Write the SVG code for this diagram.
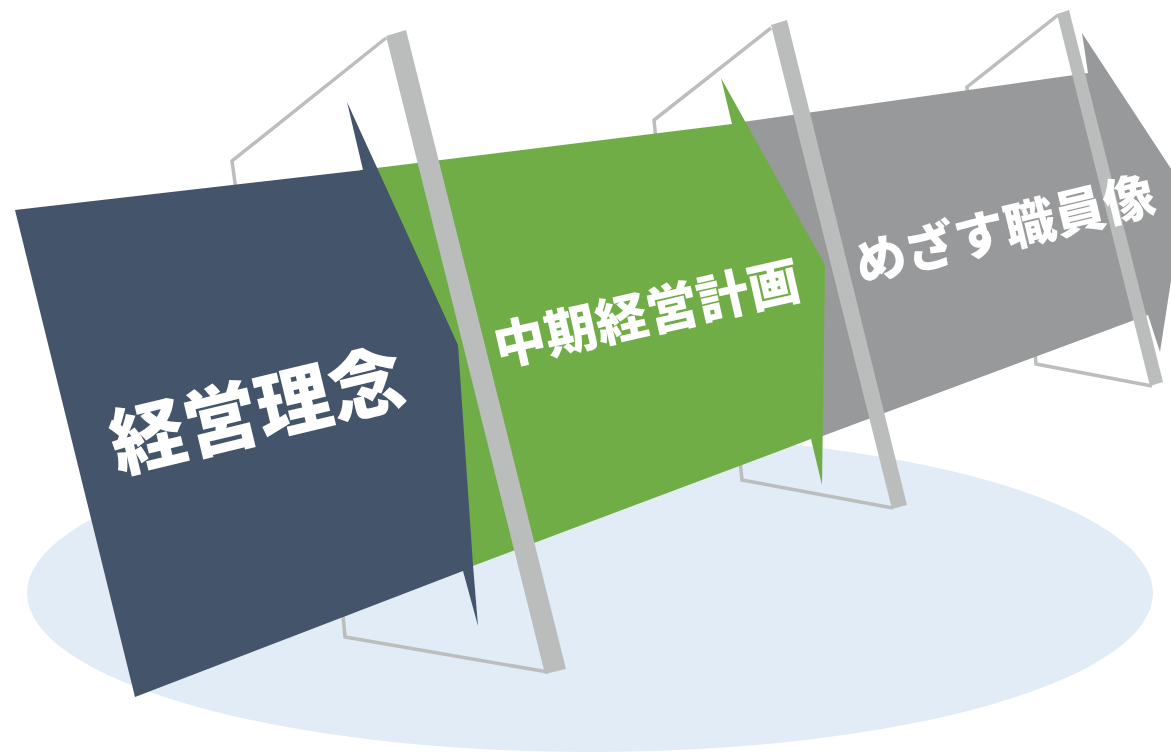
<svg xmlns="http://www.w3.org/2000/svg" width="1171" height="754" viewBox="0 0 1171 754">
<style>
.frame{fill:none;stroke:#BCBDBD;stroke-width:3.5;stroke-linejoin:miter}
.post{fill:#BBBDBC}
.lbl{fill:#FFFFFF;font-family:"Noto Sans CJK JP","Noto Sans CJK SC",sans-serif;font-weight:900;text-anchor:middle;dominant-baseline:central}
</style>
<rect width="1171" height="754" fill="#FFFFFF"/>
<ellipse id="base" cx="590" cy="593" rx="563" ry="159" fill="#E2ECF7"/>
<g id="frames">
<polyline class="frame" points="386,38 232,161 236,190"/>
<polyline class="frame" points="343,615 345,637 548,672"/>
<polyline class="frame" points="771,28 654,120 656,140"/>
<polyline class="frame" points="740,460 742,480 893,508"/>
<polyline class="frame" points="1058,15 967,87 968,100"/>
<polyline class="frame" points="1035,350 1036,364 1152,386"/>
</g>
<g id="arrow-gray">
<polygon points="735,123 1088,73 1082,33 1185,190 1160,352 1148,315 820,437" fill="#98999B"/>
</g>
<g id="arrow-green">
<polygon points="360,170 732,124 721,78 825,265 822,485 811,439 470,567" fill="#70AD47"/>
</g>
<g id="arrow-navy">
<polygon points="15,210 363,170 347,102 458,345 473,565 478,626 463,571 135,697" fill="#44546A"/>
</g>
<g id="posts">
<polygon class="post" points="386,36 406,30 566,669 545,674"/>
<polygon class="post" points="771,25 787,20 907,505 892,509"/>
<polygon class="post" points="1057,14 1069,10 1163,382 1150,386"/>
</g>
<g id="labels">
<text class="lbl" font-size="75" transform="translate(256,406) rotate(-13.5)">経営理念</text>
<text class="lbl" font-size="52" transform="translate(646,310) rotate(-12.8)">中期経営計画</text>
<text class="lbl" font-size="51" transform="translate(1004,226) rotate(-13.5)">めざす職員像</text>
</g>
</svg>
